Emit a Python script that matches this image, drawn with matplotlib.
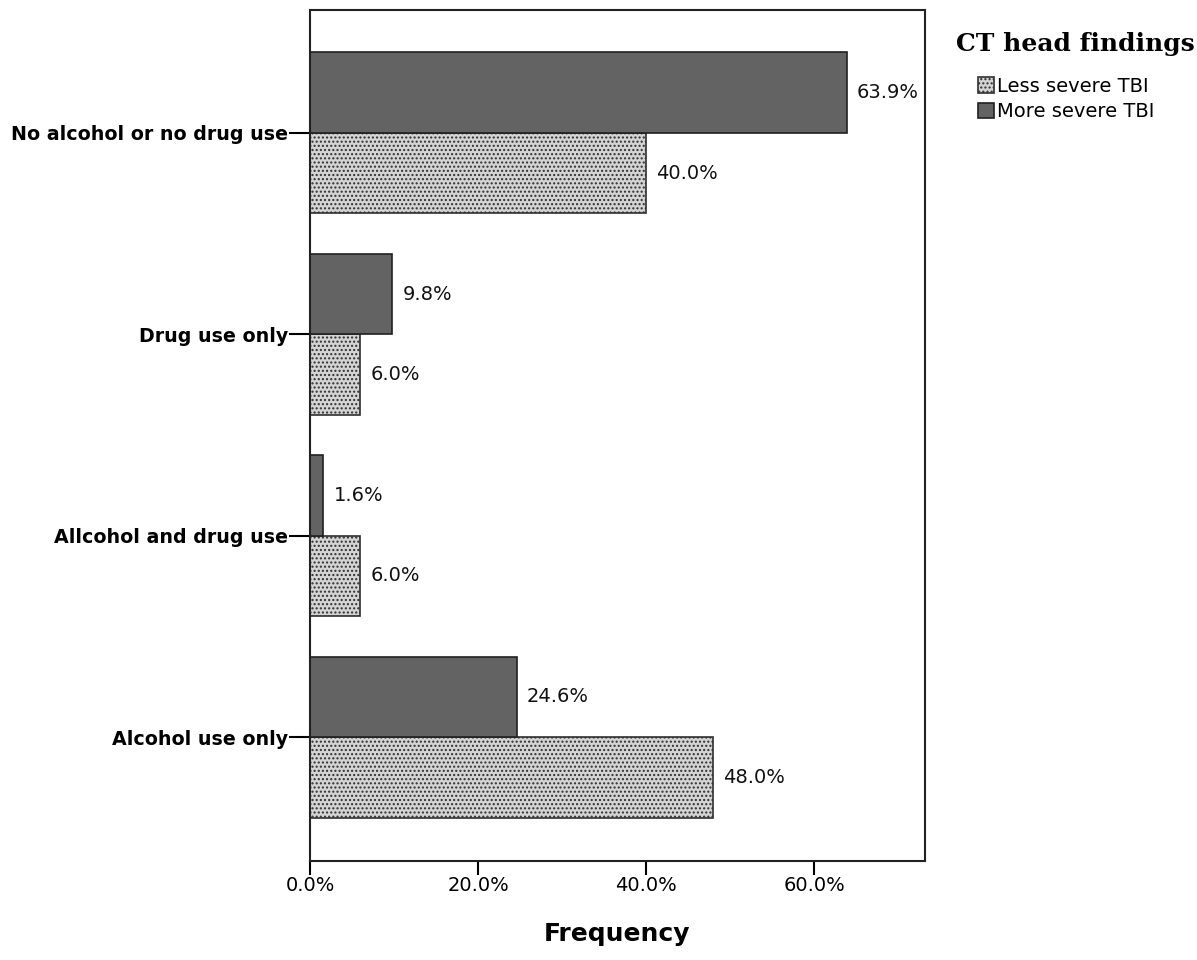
import matplotlib
matplotlib.use("Agg")
import matplotlib.pyplot as plt
import numpy as np

plt.rcParams['hatch.color'] = '#808080'
plt.rcParams['hatch.linewidth'] = 1.0

categories = ["Alcohol use only", "Allcohol and drug use", "Drug use only", "No alcohol or no drug use"]
less_severe = [48.0, 6.0, 6.0, 40.0]
more_severe = [24.6, 1.6, 9.8, 63.9]
series_names = ["Less severe TBI", "More severe TBI"]
xticks = [0, 20, 40, 60]
xtick_labels = ["0.0%", "20.0%", "40.0%", "60.0%"]
legend_title = "CT head findings"

fig = plt.figure(figsize=(11.97, 9.6), dpi=100)
ax = fig.add_axes([310/1197, 1-861/960, (925-310)/1197, (861-10)/960])

y = np.arange(len(categories))
h = 0.4
b1 = ax.barh(y - h/2, less_severe, height=h, color='#d4d4d4', edgecolor='#303030',
             hatch='....', linewidth=1.2, label=series_names[0])
b2 = ax.barh(y + h/2, more_severe, height=h, color='#636363', edgecolor='#202020',
             linewidth=1.2, label=series_names[1])

for bars, vals in ((b1, less_severe), (b2, more_severe)):
    for bar, v in zip(bars, vals):
        ax.annotate(f"{v:.1f}%", (bar.get_width(), bar.get_y() + bar.get_height()/2),
                    xytext=(10, 0), textcoords='offset pixels', ha='left', va='center',
                    fontsize=14, family='DejaVu Sans', color='#111111')

ax.set_xlim(0, 73.2)
ax.set_ylim(-0.615, 3.61)
ax.set_yticks(y)
ax.set_yticklabels(categories, fontsize=13.7, fontweight='bold', family='DejaVu Sans')
ax.set_xticks(xticks)
ax.set_xticklabels(xtick_labels, fontsize=14, family='DejaVu Sans')
ax.tick_params(axis='y', length=15, width=1.5, pad=1)
ax.tick_params(axis='x', length=10, width=1.5, pad=1)
for s in ax.spines.values():
    s.set_linewidth(1.5)
    s.set_color('#222222')
ax.set_xlabel("Frequency", fontsize=18, fontweight='bold', family='DejaVu Sans', labelpad=19)

fig.text(956/1197, 1-44/960, legend_title, ha='left', va='center',
         family='DejaVu Serif', fontweight='bold', fontsize=18)
leg = fig.legend(handles=[b1, b2], labels=series_names, loc='upper left',
                 bbox_to_anchor=(964/1197, 1-63/960), frameon=False,
                 prop={'family': 'DejaVu Sans', 'size': 14},
                 handlelength=0.85, handleheight=0.85, handletextpad=0.15, labelspacing=0.35,
                 borderpad=0.2)

fig.savefig("out.png", dpi=100)
